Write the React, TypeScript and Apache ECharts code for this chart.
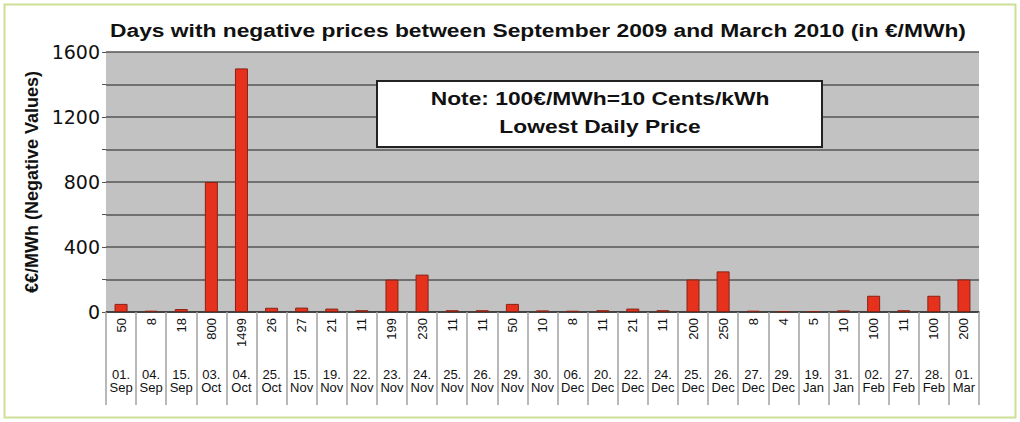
import React, { useEffect, useRef } from "react";
import * as echarts from "echarts";

const TITLE = "Days with negative prices between September 2009 and March 2010 (in €/MWh)";
const Y_NAME = "€€/MWh (Negative Values)";
const NOTE_LINES = ["Note: 100€/MWh=10 Cents/kWh", "Lowest Daily Price"];

const days = ["01.", "04.", "15.", "03.", "04.", "25.", "15.", "19.", "22.", "23.", "24.", "25.", "26.", "29.", "30.", "06.", "20.", "22.", "24.", "25.", "26.", "27.", "29.", "19.", "31.", "02.", "27.", "28.", "01."];
const months = ["Sep", "Sep", "Sep", "Oct", "Oct", "Oct", "Nov", "Nov", "Nov", "Nov", "Nov", "Nov", "Nov", "Nov", "Nov", "Dec", "Dec", "Dec", "Dec", "Dec", "Dec", "Dec", "Dec", "Jan", "Jan", "Feb", "Feb", "Feb", "Mar"];
const prices = [50, 8, 18, 800, 1499, 26, 27, 21, 11, 199, 230, 11, 11, 50, 10, 8, 11, 21, 11, 200, 250, 8, 4, 5, 10, 100, 11, 100, 200];
const yTicks = [0, 400, 800, 1200, 1600];

const FONT = "'Liberation Sans', Arial, Helvetica, sans-serif";

export default function App() {
  const ref = useRef<HTMLDivElement>(null);
  useEffect(() => {
    const chart = echarts.init(ref.current!, null, { renderer: "svg" });
    const dates = days.map((d, i) => d + "\n" + months[i]);
    const valueLabels = prices.map((v) => String(v));
    const boldText = (text: string, x: number, y: number, z: number) => ({
      type: "text",
      x,
      y,
      z,
      scaleX: 1.2,
      style: { text, fontSize: 19, fontWeight: "bold", fill: "#111", align: "center", verticalAlign: "middle", fontFamily: FONT },
    });
    chart.setOption({
      animation: false,
      backgroundColor: "#ffffff",
      textStyle: { fontFamily: FONT },
      grid: {
        left: 106,
        right: 41,
        top: 52,
        bottom: 110,
        show: true,
        backgroundColor: "#c2c2c2",
        borderWidth: 0,
      },
      xAxis: [
        {
          type: "category",
          data: valueLabels,
          position: "bottom",
          axisLine: { show: true, lineStyle: { color: "#333", width: 1.5 } },
          axisTick: { show: true, interval: 0, length: 93, lineStyle: { color: "#a0a0a0", width: 1.5 } },
          axisLabel: { interval: 0, rotate: 90, margin: 6, fontSize: 13, color: "#111", fontFamily: FONT },
        },
        {
          type: "category",
          data: dates,
          position: "bottom",
          offset: 48,
          axisLine: { show: false },
          axisTick: { show: false },
          axisLabel: { interval: 0, margin: 8, fontSize: 13, lineHeight: 13, color: "#111", fontFamily: FONT },
        },
      ],
      yAxis: {
        type: "value",
        min: 0,
        max: 1600,
        interval: 200,
        name: Y_NAME,
        nameLocation: "middle",
        nameRotate: 90,
        nameGap: 63,
        nameTextStyle: { fontSize: 18, fontWeight: "bold", color: "#111", fontFamily: FONT },
        axisLine: { show: false },
        axisTick: { show: true, length: 4, lineStyle: { color: "#555" } },
        axisLabel: {
          fontSize: 19,
          color: "#111",
          margin: 6,
          fontFamily: "'DejaVu Sans', sans-serif",
          formatter: (v: number) => (yTicks.indexOf(v) >= 0 ? String(v) : ""),
        },
        splitLine: { show: true, lineStyle: { color: "#555555", width: 1.6 } },
      },
      series: [
        {
          type: "bar",
          xAxisIndex: 0,
          data: prices,
          barWidth: 13,
          itemStyle: { color: "#e6321d", borderColor: "#8a2214", borderWidth: 1 },
        },
      ],
      graphic: [
        {
          type: "rect",
          shape: { x: 4.5, y: 4.5, width: 1011, height: 413 },
          style: { fill: "none", stroke: "#cddf96", lineWidth: 2 },
          silent: true,
        },
        boldText(TITLE, 538, 30, 101),
        {
          type: "rect",
          shape: { x: 377, y: 81, width: 445, height: 66 },
          style: { fill: "#ffffff", stroke: "#222", lineWidth: 2 },
          z: 100,
        },
        boldText(NOTE_LINES[0], 600, 98, 101),
        boldText(NOTE_LINES[1], 600, 126, 101),
      ],
    });
    return () => chart.dispose();
  }, []);
  return <div ref={ref} style={{ position: "fixed", left: 0, top: 0, width: 1020, height: 422 }} />;
}
